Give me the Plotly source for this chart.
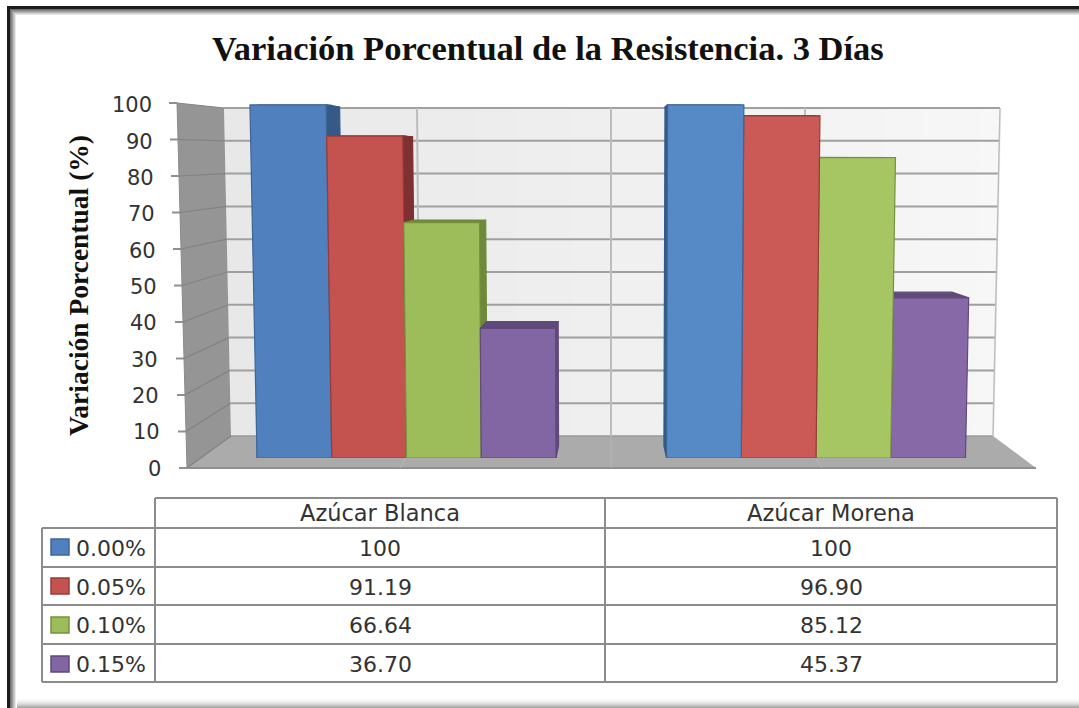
import plotly.graph_objects as go

# ---------- data ----------
categories = ["Azúcar Blanca", "Azúcar Morena"]
series_names = ["0.00%", "0.05%", "0.10%", "0.15%"]
v_000 = [100, 100]
v_005 = [91.19, 96.90]
v_010 = [66.64, 85.12]
v_015 = [36.70, 45.37]
table_000 = ["100", "100"]
table_005 = ["91.19", "96.90"]
table_010 = ["66.64", "85.12"]
table_015 = ["36.70", "45.37"]
tick_values = [0, 10, 20, 30, 40, 50, 60, 70, 80, 90, 100]
title_text = "Variación Porcentual de la Resistencia. 3 Días"
y_title = "Variación Porcentual (%)"

# ---------- styles ----------
all_vals = [v_000, v_005, v_010, v_015]
all_tbl = [table_000, table_005, table_010, table_015]
front_l = ["#5081BE", "#C4524F", "#9DBD5B", "#8265A3"]
front_r = ["#568AC6", "#CB5A57", "#A6C664", "#8869A7"]
edge = ["#3C6696", "#963C3A", "#76923F", "#604A7C"]
dark = ["#355A88", "#7E3130", "#6E8939", "#5F4A7B"]
W, H = 1079, 708
GRAY = "#8C8C8C"
F = "DejaVu Sans"


def px(x, y):
    return x / W, 1 - y / H


def poly(pts, fill, line=None, lw=0, layer="below"):
    p = [px(*q) for q in pts]
    path = "M " + " L ".join(f"{a:.5f},{b:.5f}" for a, b in p) + " Z"
    return dict(type="path", xref="paper", yref="paper", path=path, fillcolor=fill,
                line=dict(color=line or fill, width=lw), layer=layer)


def seg(x0, y0, x1, y1, color, lw=2, layer="below"):
    a, b = px(x0, y0)
    c, d = px(x1, y1)
    return dict(type="line", xref="paper", yref="paper", x0=a, y0=b, x1=c, y1=d,
                line=dict(color=color, width=lw), layer=layer)


def rect(x0, y0, x1, y1, fill, line=None, lw=0, layer="below"):
    return poly([(x0, y0), (x1, y0), (x1, y1), (x0, y1)], fill, line, lw, layer)


def mix(a, b, t):
    return "rgb(%d,%d,%d)" % tuple(round(a[i] + (b[i] - a[i]) * t) for i in range(3))


shapes = []
# photo frame
shapes.append(rect(7, 6, 10, 708, "#1c1c1c"))
shapes.append(rect(7, 6, 1079, 9, "#1c1c1c"))
for i in range(7):
    c = mix((110, 110, 110), (255, 255, 255), i / 6)
    shapes.append(rect(10 + i, 9 + i, 11 + i, 708, c))
    shapes.append(rect(10 + i, 9 + i, 1079, 10 + i, c))
for i in range(11):
    c = mix((255, 255, 255), (165, 165, 165), (i / 10) ** 2)
    shapes.append(rect(17, 697 + i, 1079, 698 + i, c))

# back wall (left-to-right shading)
BT, BB = 108, 436
n = 40
for i in range(n):
    t0, t1 = i / n, (i + 1) / n + 0.002
    tl, tr, bl, br = 224, 1000, 231, 993
    shapes.append(poly([(tl + (tr - tl) * t0, BT), (tl + (tr - tl) * t1, BT),
                        (bl + (br - bl) * t1, BB), (bl + (br - bl) * t0, BB)],
                       mix((232, 232, 232), (247, 247, 247), t0)))
# left wall and floor
shapes.append(poly([(177, 103), (224, 108), (231, 436), (187, 468)], "#959595"))
shapes.append(poly([(231, 436), (993, 436), (1036, 468), (187, 468)], "#ABABAB"))

# gridlines: back wall and left wall from the tick values
for v in tick_values:
    yb = BB - (BB - BT) * v / 100
    xl = 231 - 7 * v / 100
    xr = 993 + 7 * v / 100
    yf = 468 - 365 * v / 100
    xf = 187 - 10 * v / 100
    if v > 0:
        shapes.append(seg(xl, yb, xr, yb, "#A0A0A0", 2))
    else:
        shapes.append(seg(xl, yb, xr, yb, "#9A9A9A", 1.5))
    shapes.append(seg(xf, yf, xl, yb, "#828282", 1.2))
    shapes.append(seg(xf - 8, yf, xf, yf, "#909090", 2))
shapes.append(seg(187, 468, 1036, 468, "#8F8F8F", 2))
shapes.append(seg(177, 103, 187, 468, "#8A8A8A", 1))
# vertical gridlines
for xt, xb, xf in [(417, 420, 400), (611, 611, 611), (805, 802, 822)]:
    shapes.append(seg(xt, BT, xb, BB, "#BDBDBD", 2))
    shapes.append(seg(xb, BB, xf, 468, "#B6B6B6", 1))
shapes.append(seg(1000, BT, 993, BB, "#BDBDBD", 1.5))

# table grid
rows = [498, 528, 567, 605, 644, 682]
cols = [42, 155, 605, 1057]
for i, y in enumerate(rows):
    shapes.append(seg(155 if i == 0 else 42, y, 1057, y, GRAY, 2))
for x in cols:
    shapes.append(seg(x, 528 if x == 42 else 498, x, 682, GRAY, 2))
# legend keys in the table
key_y = [539, 578, 617, 656]
for k in range(4):
    shapes.append(rect(51, key_y[k], 69, key_y[k] + 16, front_l[k], edge[k], 1.5))

fig = go.Figure()
GAP = 0.27
BW = (1 - GAP) / 4
CX = 0.5
PXU = 3.53  # front plane: pixels per value unit

# real bars through the axes
for k, name in enumerate(series_names):
    fig.add_trace(go.Bar(
        name=name, x=[0, 1], y=all_vals[k], hovertext=categories,
        marker=dict(color=[front_l[k], front_r[k]], line=dict(color=edge[k], width=1)),
    ))


def fx(x, v):
    return CX + (x - CX) * (1 + 0.0002 * v)


def bk(x):
    return x + (CX - x) * 0.047


def bv(v):
    return v + (12 - 0.14 * v) / PXU


def face(xs, ys, fill, line):
    fig.add_trace(go.Scatter(x=xs + xs[:1], y=ys + ys[:1], mode="lines", fill="toself",
                             fillcolor=fill, line=dict(color=line, width=1.2),
                             hoverinfo="skip", showlegend=False))


# perspective faces derived from the same values, farthest from the centre first
for g, order in [(0, [0, 1, 2, 3]), (1, [3, 2, 1, 0])]:
    for k in order:
        v = all_vals[k][g]
        x0 = g - 2 * BW + k * BW
        x1 = x0 + BW
        a0, a1 = fx(x0, v), fx(x1, v)
        face([a0, a1, bk(a1), bk(a0)], [v, v, bv(v), bv(v)], dark[k], dark[k])
        if g == 0:
            face([x1, a1, bk(a1), bk(x1)], [0, v, bv(v), bv(0)], dark[k], dark[k])
        else:
            face([x0, a0, bk(a0), bk(x0)], [0, v, bv(v), bv(0)], dark[k], dark[k])
        col = front_l[k] if g == 0 else front_r[k]
        face([x0, x1, a1, a0], [0, 0, v, v], col, edge[k])

# invisible anchor for the outer (tick-label) value axis
fig.add_trace(go.Scatter(x=[0, 0], y=[0, 100], yaxis="y2", mode="markers",
                         marker=dict(opacity=0), hoverinfo="skip", showlegend=False))

ann = []
ann.append(dict(text=f"<b>{title_text}</b>", xref="paper", yref="paper", x=548 / W, y=1 - 48 / H,
                showarrow=False, xanchor="center", yanchor="middle",
                font=dict(family="Liberation Serif", size=34.5, color="#111111")))
ann.append(dict(text=f"<b>{y_title}</b>", xref="paper", yref="paper", x=78 / W, y=1 - 286 / H,
                textangle=-90, showarrow=False, xanchor="center", yanchor="middle",
                font=dict(family="Liberation Serif", size=27.5, color="#111111")))
for v in tick_values:
    ann.append(dict(text=str(v), xref="paper", yref="y2", x=(160 - 0.09 * v) / W, y=v,
                    showarrow=False, xanchor="right", yanchor="middle", xshift=3,
                    font=dict(family=F, size=21, color="#333333")))
# table text
for g, cat in enumerate(categories):
    cx = [380, 831][g]
    ann.append(dict(text=cat, xref="paper", yref="paper", x=cx / W, y=1 - 513 / H, showarrow=False,
                    xanchor="center", yanchor="middle", font=dict(family=F, size=22.5, color="#333333")))
    for r in range(4):
        ann.append(dict(text=all_tbl[r][g], xref="paper", yref="paper", x=cx / W,
                        y=1 - ((rows[r + 1] + rows[r + 2]) / 2 + 1) / H, showarrow=False,
                        xanchor="center", yanchor="middle",
                        font=dict(family=F, size=22, color="#333333")))
for r, name in enumerate(series_names):
    ann.append(dict(text=name, xref="paper", yref="paper", x=74 / W,
                    y=1 - ((rows[r + 1] + rows[r + 2]) / 2 + 1) / H, showarrow=False,
                    xanchor="left", yanchor="middle",
                    font=dict(family=F, size=22, color="#333333")))

fig.update_layout(
    width=W, height=H, margin=dict(l=0, r=0, t=0, b=0), autosize=False,
    paper_bgcolor="white", plot_bgcolor="rgba(0,0,0,0)", showlegend=False,
    barmode="group", bargap=GAP, bargroupgap=0,
    xaxis=dict(domain=[201.75 / W, 1020.75 / W], range=[-0.5, 1.5], visible=False, fixedrange=True),
    yaxis=dict(domain=[1 - 458 / H, 1 - (458 - PXU * 105) / H], range=[0, 105], visible=False, fixedrange=True),
    yaxis2=dict(domain=[1 - 468.5 / H, 1 - 105.5 / H], range=[0, 100], visible=False, fixedrange=True,
                anchor="x"),
    shapes=shapes, annotations=ann,
)
fig.write_html("out.html", config=dict(displayModeBar=False),
               post_script="document.body.style.margin='0';")
